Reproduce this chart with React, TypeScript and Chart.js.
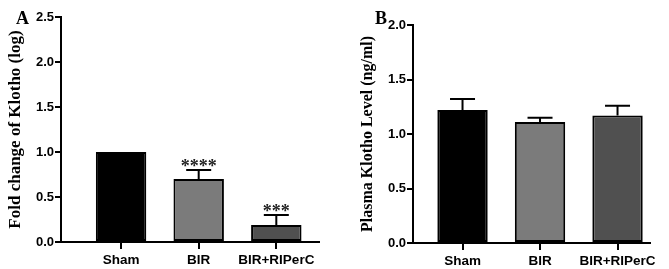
import React, { useEffect, useRef } from 'react';
import { Chart, registerables } from 'chart.js';

Chart.register(...registerables);

const categories = ['Sham', 'BIR', 'BIR+RIPerC'];
const foldChange = [1.0, 0.70, 0.19];
const foldChangeErr = [0, 0.10, 0.11];
const foldStars = ['', '****', '***'];
const plasmaKlotho = [1.22, 1.11, 1.17];
const plasmaKlothoErr = [0.10, 0.04, 0.09];
const plasmaStars = ['', '', ''];
const barColors = ['#000000', '#7b7b7b', '#505050'];

const yTickFont = { family: 'Liberation Sans', weight: 'bold' as const, size: 13 };
const xTickFont = { family: 'Liberation Sans', weight: 'bold' as const, size: 13.5 };

type PanelProps = {
  letter: string;
  letterX: number;
  values: number[];
  errors: number[];
  stars: string[];
  yTitle: string;
  titleSize: number;
  titlePad: number;
  yMax: number;
  width: number;
  yWidth: number;
  padTop: number;
  padRight: number;
  xHeight: number;
  xMin: number;
  xMax: number;
  left: number;
};

function Panel(p: PanelProps) {
  const ref = useRef<HTMLCanvasElement | null>(null);
  useEffect(() => {
    if (!ref.current) return;
    const overlay = {
      id: 'errOverlay',
      afterDraw(chart: any) {
        const ctx = chart.ctx;
        const meta = chart.getDatasetMeta(0);
        const ys = chart.scales.y;
        ctx.save();
        ctx.strokeStyle = '#000';
        ctx.lineWidth = 2;
        p.values.forEach((v, i) => {
          const el = meta.data[i];
          const x = el.x;
          const top = ys.getPixelForValue(v + p.errors[i]);
          const base = ys.getPixelForValue(v);
          if (p.errors[i] > 0) {
            ctx.beginPath();
            ctx.moveTo(x, base);
            ctx.lineTo(x, top);
            ctx.moveTo(x - 12.5, top);
            ctx.lineTo(x + 12.5, top);
            ctx.stroke();
          }
          if (p.stars[i]) {
            ctx.fillStyle = '#222';
            ctx.font = 'bold 18px "Liberation Serif"';
            ctx.textAlign = 'center';
            ctx.textBaseline = 'alphabetic';
            ctx.fillText(p.stars[i], x, top + 2);
          }
        });
        ctx.fillStyle = '#000';
        ctx.font = 'bold 18px "Liberation Serif"';
        ctx.textAlign = 'left';
        ctx.textBaseline = 'alphabetic';
        ctx.fillText(p.letter, p.letterX, 24);
        ctx.restore();
      },
    };
    const chart = new Chart(ref.current, {
      type: 'bar',
      data: {
        datasets: [
          {
            data: p.values.map((v, i) => ({ x: i, y: v })),
            backgroundColor: barColors,
            borderColor: '#000',
            borderWidth: 2,
            borderSkipped: false,
            categoryPercentage: 1,
            barPercentage: 0.65,
          },
        ],
      },
      options: {
        responsive: false,
        animation: false,
        layout: { padding: { left: 0, top: p.padTop, right: p.padRight, bottom: 0 } },
        plugins: { legend: { display: false }, tooltip: { enabled: false } },
        scales: {
          x: {
            type: 'linear',
            offset: false,
            min: p.xMin,
            max: p.xMax,
            afterBuildTicks: (s: any) => {
              s.ticks = categories.map((_, i) => ({ value: i }));
            },
            afterFit: (s: any) => {
              s.height = p.xHeight;
            },
            ticks: {
              callback: (v: any) => categories[v as number],
              font: xTickFont,
              color: '#000',
              padding: 3,
              maxRotation: 0,
              autoSkip: false,
            },
            grid: { offset: false, drawOnChartArea: false, drawTicks: true, tickLength: 7, color: '#000', lineWidth: 2 },
            border: { display: true, color: '#000', width: 2 },
          },
          y: {
            min: 0,
            max: p.yMax,
            afterFit: (s: any) => {
              s.width = p.yWidth;
            },
            ticks: {
              stepSize: 0.5,
              callback: (v: any) => Number(v).toFixed(1),
              font: yTickFont,
              color: '#000',
              padding: 1,
            },
            grid: { drawOnChartArea: false, drawTicks: true, tickLength: 6, color: '#000', lineWidth: 2 },
            border: { display: true, color: '#000', width: 2 },
            title: {
              display: true,
              text: p.yTitle,
              font: { family: 'Liberation Serif', weight: 'bold', size: p.titleSize },
              color: '#000',
              padding: { top: p.titlePad, bottom: 0 },
            },
          },
        },
      },
      plugins: [overlay],
    } as any);
    return () => chart.destroy();
  }, []);
  return (
    <canvas
      ref={ref}
      width={p.width}
      height={269}
      style={{ position: 'absolute', left: p.left, top: 0, width: p.width, height: 269 }}
    />
  );
}

export default function App() {
  return (
    <div style={{ position: 'absolute', left: 0, top: 0, width: 669, height: 269, background: '#fff' }}>
      <Panel
        letter="A"
        letterX={16}
        values={foldChange}
        errors={foldChangeErr}
        stars={foldStars}
        yTitle="Fold change of Klotho (log)"
        titleSize={17}
        titlePad={5}
        yMax={2.5}
        width={335}
        yWidth={61}
        padTop={17}
        padRight={16}
        xHeight={27}
        xMin={-0.774}
        xMax={2.55}
        left={0}
      />
      <Panel
        letter="B"
        letterX={40}
        values={plasmaKlotho}
        errors={plasmaKlothoErr}
        stars={plasmaStars}
        yTitle="Plasma Klotho Level (ng/ml)"
        titleSize={16}
        titlePad={23}
        yMax={2.0}
        width={334}
        yWidth={78}
        padTop={25}
        padRight={19}
        xHeight={26}
        xMin={-0.639}
        xMax={2.419}
        left={335}
      />
    </div>
  );
}
